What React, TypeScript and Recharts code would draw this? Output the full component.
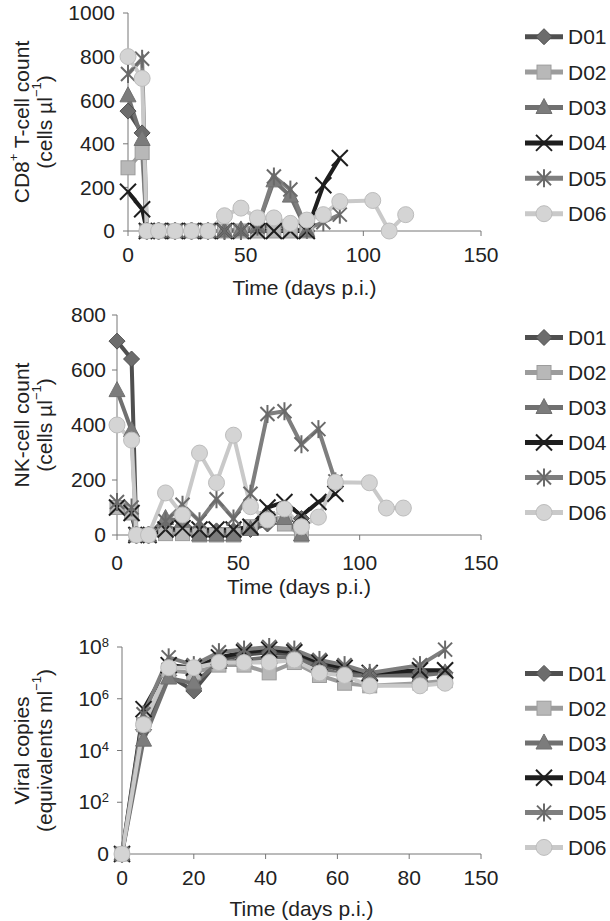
import React from "react";
import { LineChart, Line, XAxis, YAxis, Legend } from "recharts";

const FONT = "'Liberation Sans', Arial, Helvetica, sans-serif";

const donors = ["D01", "D02", "D03", "D04", "D05", "D06"];

// sampling days (days p.i.) for both cell counts
const countDays = [0, 6, 8, 13, 20, 27, 34, 41, 48, 55, 62, 69, 76, 83, 90, 97, 104, 111, 118];

// CD8+ T-cell count (cells/µl)
const cd8D01 = [550, 450, 0, 0, 0, 0, 0, 0, 5, 10, 30, 10, 0, null, null, null, null, null, null];
const cd8D02 = [290, 360, 0, 0, 0, 0, 0, 0, 0, 0, 0, 0, 0, null, null, null, null, null, null];
const cd8D03 = [620, 420, 0, 0, 0, 0, 0, 0, 5, 20, 230, 160, 0, null, null, null, null, null, null];
const cd8D04 = [180, 100, 0, 0, 0, 0, 0, 0, 0, 0, 0, 0, 0, 210, 335, null, null, null, null];
const cd8D05 = [720, 790, 0, 0, 0, 0, 0, 0, 0, 20, 250, 190, 10, 40, 75, null, null, null, null];
const cd8D06 = [800, 700, 0, 0, 0, 0, 0, 70, 105, 60, 60, 35, 50, 75, 135, null, 140, 0, 75];

// NK-cell count (cells/µl)
const nkD01 = [705, 640, 0, 0, 15, 15, 15, 15, 15, 20, 40, 50, 60, null, null, null, null, null, null];
const nkD02 = [100, 80, 0, 0, 5, 5, 0, 0, 0, 30, 60, 40, 0, null, null, null, null, null, null];
const nkD03 = [525, 380, 0, 0, 60, 50, 0, 0, 0, 20, 60, 60, 0, null, null, null, null, null, null];
const nkD04 = [100, 80, 0, 0, 20, 25, 20, 20, 20, 30, 100, 120, 70, 120, 150, null, null, null, null];
const nkD05 = [120, 100, 0, 0, 50, 110, 50, 130, 60, 150, 440, 450, 330, 385, 195, null, null, null, null];
const nkD06 = [400, 345, 0, 0, 153, 73, 298, 190, 363, 103, 55, 95, 30, 65, 192, null, 190, 98, 98];

// viral load, log10 copies/ml (0 = undetectable)
const viralDays = [0, 6, 13, 20, 27, 34, 41, 48, 55, 62, 69, 83, 90];
const viralD01 = [0, 4.8, 6.9, 6.3, 7.5, 7.7, 7.8, 7.7, 7.3, 7.1, 6.9, 7.0, 7.0];
const viralD02 = [0, 5.0, 7.1, 7.0, 7.3, 7.3, 7.0, 7.4, 6.9, 6.6, 6.5, 6.6, 6.7];
const viralD03 = [0, 4.4, 6.8, 6.6, 7.4, 7.5, 7.6, 7.6, 7.2, 6.9, 6.9, 6.9, 7.0];
const viralD04 = [0, 5.6, 7.3, 7.2, 7.6, 7.8, 7.9, 7.8, 7.4, 7.2, 7.0, 7.1, 7.1];
const viralD05 = [0, 5.4, 7.6, 7.3, 7.8, 7.9, 8.0, 7.9, 7.5, 7.3, 7.0, 7.3, 7.9];
const viralD06 = [0, 5.0, 7.2, 7.2, 7.4, 7.4, 7.4, 7.5, 7.0, 6.9, 6.5, 6.5, 6.6];

const countTicksX = [0, 50, 100, 150];
const cd8TicksY = [0, 200, 400, 600, 800, 1000];
const nkTicksY = [0, 200, 400, 600, 800];
const viralTicksX = [0, 20, 40, 60, 80, 100];
const viralTicksY = [0, 2, 4, 6, 8];

const buildRows = (days: number[], series: (number | null)[][]) =>
  days.map((day, i) => {
    const row: any = { day };
    donors.forEach((d, k) => (row[d] = series[k][i]));
    return row;
  });

const cd8Rows = buildRows(countDays, [cd8D01, cd8D02, cd8D03, cd8D04, cd8D05, cd8D06]);
const nkRows = buildRows(countDays, [nkD01, nkD02, nkD03, nkD04, nkD05, nkD06]);
const viralRows = buildRows(viralDays, [viralD01, viralD02, viralD03, viralD04, viralD05, viralD06]);

const look: Record<string, { stroke: string; fill: string; shape: string }> = {
  D01: { stroke: "#4f4f4f", fill: "#6c6c6c", shape: "diamond" },
  D02: { stroke: "#9c9c9c", fill: "#b8b8b8", shape: "square" },
  D03: { stroke: "#707070", fill: "#7c7c7c", shape: "triangle" },
  D04: { stroke: "#1e1e1e", fill: "#1e1e1e", shape: "cross" },
  D05: { stroke: "#7e7e7e", fill: "#6a6a6a", shape: "star" },
  D06: { stroke: "#c9c9c9", fill: "#d4d4d4", shape: "circle" },
};

function Marker({ shape, cx, cy, fill, stroke }: any) {
  switch (shape) {
    case "diamond":
      return (
        <polygon
          points={`${cx},${cy - 8} ${cx + 8},${cy} ${cx},${cy + 8} ${cx - 8},${cy}`}
          fill={fill}
          stroke={stroke}
          strokeWidth={1}
        />
      );
    case "square":
      return <rect x={cx - 7} y={cy - 7} width={14} height={14} fill={fill} stroke={stroke} strokeWidth={1} />;
    case "triangle":
      return (
        <polygon
          points={`${cx},${cy - 9} ${cx + 8},${cy + 6} ${cx - 8},${cy + 6}`}
          fill={fill}
          stroke={stroke}
          strokeWidth={1}
        />
      );
    case "cross":
      return (
        <g stroke={fill} strokeWidth={2}>
          <line x1={cx - 8} y1={cy - 8} x2={cx + 8} y2={cy + 8} />
          <line x1={cx - 8} y1={cy + 8} x2={cx + 8} y2={cy - 8} />
        </g>
      );
    case "star":
      return (
        <g stroke={fill} strokeWidth={2}>
          <line x1={cx - 7} y1={cy - 7} x2={cx + 7} y2={cy + 7} />
          <line x1={cx - 7} y1={cy + 7} x2={cx + 7} y2={cy - 7} />
          <line x1={cx} y1={cy - 9} x2={cx} y2={cy + 9} />
        </g>
      );
    default:
      return <circle cx={cx} cy={cy} r={8} fill={fill} stroke="#bcbcbc" strokeWidth={1} />;
  }
}

const dotFor = (name: string) => (props: any) => {
  const { cx, cy, index } = props;
  const key = `${name}-${index}`;
  if (cx == null || cy == null || Number.isNaN(cx) || Number.isNaN(cy) || props.value == null) {
    return <g key={key} />;
  }
  const s = look[name];
  return <Marker key={key} shape={s.shape} cx={cx} cy={cy} fill={s.fill} stroke={s.stroke} />;
};

const renderLegend = (gap: number) => () => (
  <svg width={90} height={gap * 6} style={{ display: "block" }}>
    {donors.map((d, i) => {
      const y = gap / 2 + i * gap;
      const s = look[d];
      return (
        <g key={d}>
          <line x1={5} y1={y} x2={43} y2={y} stroke={s.stroke} strokeWidth={5} />
          <Marker shape={s.shape} cx={24} cy={y} fill={s.fill} stroke={s.stroke} />
          <text x={48} y={y + 7.5} fontSize={21} fill="#222" fontFamily={FONT}>
            {d}
          </text>
        </g>
      );
    })}
  </svg>
);

const sup = (t: string) => (
  <tspan baselineShift="super" fontSize={13}>
    {t}
  </tspan>
);

const yTitle = (lines: { x: number; content: React.ReactNode }[]) => (props: any) => {
  const vb = props.viewBox || { y: 0, height: 0 };
  const cy = vb.y + vb.height / 2;
  return (
    <g>
      {lines.map((l, i) => (
        <text
          key={i}
          x={l.x}
          y={cy}
          transform={`rotate(-90 ${l.x} ${cy})`}
          textAnchor="middle"
          dominantBaseline="central"
          fontSize={21}
          fill="#222"
          fontFamily={FONT}
        >
          {l.content}
        </text>
      ))}
    </g>
  );
};

const LogTick = ({ x, y, payload }: any) => (
  <text x={x} y={y} dy={7} textAnchor="end" fontSize={21} fill="#222" fontFamily={FONT}>
    {payload.value === 0 ? "0" : (
      <>
        <tspan>10</tspan>
        {sup(String(payload.value))}
      </>
    )}
  </text>
);

const tickStyle = { fontSize: 21, fill: "#222", fontFamily: FONT };
const xTitle = (offset: number) => ({
  value: "Time (days p.i.)",
  position: "insideBottom" as const,
  offset,
  style: { fontSize: 21, fill: "#222", fontFamily: FONT },
});

const lines = () =>
  donors.map((d) => (
    <Line
      key={d}
      type="linear"
      dataKey={d}
      stroke={look[d].stroke}
      strokeWidth={4}
      dot={dotFor(d)}
      activeDot={false}
      connectNulls
      isAnimationActive={false}
    />
  ));

export default function App() {
  return (
    <div style={{ position: "absolute", left: 0, top: 0, width: 610, height: 921, background: "#fff" }}>
      <div style={{ position: "absolute", left: 0, top: 0 }}>
        <LineChart width={610} height={300} data={cd8Rows} margin={{ top: 13, right: 129, left: 0, bottom: 0 }}>
          <XAxis
            type="number"
            dataKey="day"
            domain={[0, 150]}
            ticks={countTicksX}
            interval={0}
            height={69}
            stroke="#777"
            tickSize={5}
            tickMargin={11}
            tick={tickStyle}
            label={xTitle(5)}
          />
          <YAxis
            type="number"
            domain={[0, 1000]}
            ticks={cd8TicksY}
            interval={0}
            width={128}
            stroke="#777"
            tickSize={5}
            tickMargin={8}
            tick={tickStyle}
            label={{
              content: yTitle([
                { x: 21, content: <>{"CD8"}{sup("+")}{" T-cell count"}</> },
                { x: 44, content: <>{"(cells µl"}{sup("−1")}{")"}</> },
              ]),
            }}
          />
          {lines()}
          <Legend
            layout="vertical"
            align="center"
            verticalAlign="middle"
            content={renderLegend(35.4)}
            wrapperStyle={{ left: 520, top: 19, width: 90 }}
          />
        </LineChart>
      </div>

      <div style={{ position: "absolute", left: 0, top: 300 }}>
        <LineChart width={610} height={300} data={nkRows} margin={{ top: 15, right: 129, left: 0, bottom: 0 }}>
          <XAxis
            type="number"
            dataKey="day"
            domain={[0, 150]}
            ticks={countTicksX}
            interval={0}
            height={65}
            stroke="#777"
            tickSize={5}
            tickMargin={15}
            tick={tickStyle}
            label={xTitle(6)}
          />
          <YAxis
            type="number"
            domain={[0, 800]}
            ticks={nkTicksY}
            interval={0}
            width={117}
            stroke="#777"
            tickSize={5}
            tickMargin={6}
            tick={tickStyle}
            label={{
              content: yTitle([
                { x: 21, content: "NK-cell count" },
                { x: 44, content: <>{"(cells µl"}{sup("−1")}{")"}</> },
              ]),
            }}
          />
          {lines()}
          <Legend
            layout="vertical"
            align="center"
            verticalAlign="middle"
            content={renderLegend(35)}
            wrapperStyle={{ left: 520, top: 20, width: 90 }}
          />
        </LineChart>
      </div>

      <div style={{ position: "absolute", left: 0, top: 600 }}>
        <LineChart width={610} height={321} data={viralRows} margin={{ top: 47, right: 129, left: 0, bottom: 0 }}>
          <XAxis
            type="number"
            dataKey="day"
            domain={[0, 100]}
            ticks={viralTicksX}
            interval={0}
            height={67}
            stroke="#777"
            tickSize={5}
            tickMargin={11}
            tick={tickStyle}
            tickFormatter={(v: number) => (v === 100 ? "150" : String(v))}
            label={xTitle(5)}
          />
          <YAxis
            type="number"
            domain={[0, 8]}
            ticks={viralTicksY}
            interval={0}
            width={122}
            stroke="#777"
            tickSize={5}
            tickMargin={8}
            tick={<LogTick />}
            label={{
              content: yTitle([
                { x: 21, content: "Viral copies" },
                { x: 44, content: <>{"(equivalents ml"}{sup("−1")}{")"}</> },
              ]),
            }}
          />
          {lines()}
          <Legend
            layout="vertical"
            align="center"
            verticalAlign="middle"
            content={renderLegend(34.8)}
            wrapperStyle={{ left: 520, top: 56, width: 90 }}
          />
        </LineChart>
      </div>
    </div>
  );
}
